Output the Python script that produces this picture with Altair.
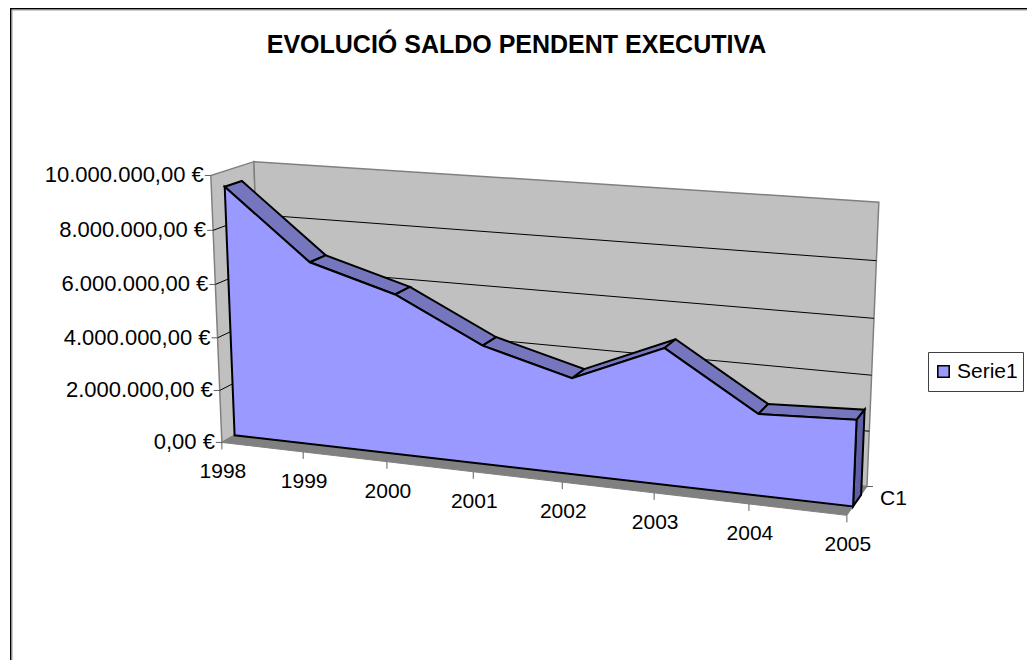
import altair as alt
import numpy as np
import pandas as pd

TITLE = "EVOLUCIÓ SALDO PENDENT EXECUTIVA"
SERIES = "Serie1"
DEPTH_LABEL = "C1"
years = ["1998", "1999", "2000", "2001", "2002", "2003", "2004", "2005"]
values = [9430000, 6880000, 5960000, 4380000, 3510000, 4900000, 2900000, 3040000]
y_ticks = [0, 2000000, 4000000, 6000000, 8000000, 10000000]
y_labels = ["0,00 €", "2.000.000,00 €", "4.000.000,00 €", "6.000.000,00 €", "8.000.000,00 €", "10.000.000,00 €"]

# 3D projection of the Excel-style chart box: (category, value, depth) -> picture plane
calib_src = [(0,0,0),(1,0,0),(0,1,0),(0,1,1),(1,1,1),(1,0,1),(0,0,1),(0,0,.3),(1,0,.3),
             (1,.8,1),(1,.6,1),(1,.4,1),(1,.2,1),(0,.8,0),(0,.6,0),(0,.4,0),(0,.2,0)]
calib_dst = [(223,443),(847,517),(211,176),(254,161),(879,203),(867,487),(263,421),(235,435),(853,506),
             (877,261),(874,318),(871,374),(869,430),(213,231),(215,285),(217,337),(219,388)]
A, b = [], []
for (u, v, d), (px, py) in zip(calib_src, calib_dst):
    A.append([u, v, d, 1, 0, 0, 0, 0, -u*px, -v*px, -d*px]); b.append(px)
    A.append([0, 0, 0, 0, u, v, d, 1, -u*py, -v*py, -d*py]); b.append(py)
h = np.linalg.lstsq(np.array(A, float), np.array(b, float), rcond=None)[0]

def proj(u, v, d):
    w = h[8]*u + h[9]*v + h[10]*d + 1
    return (h[0]*u + h[1]*v + h[2]*d + h[3]) / w, (h[4]*u + h[5]*v + h[6]*d + h[7]) / w

N = len(years) - 1
MAXV = float(y_ticks[-1])
DF, DB = 0.3, 0.7
U = [i / N for i in range(len(years))]
V = [x / MAXV for x in values]

def poly_df(polys):
    rows = []
    for pid, pts in enumerate(polys):
        for i, p in enumerate(pts):
            x, y = proj(*p)
            rows.append({"poly": pid, "i": i, "x": x, "y": y, "series": SERIES})
    return pd.DataFrame(rows)

W, H = 1019, 652
X = alt.X("x:Q", axis=None, scale=alt.Scale(domain=[8, 8 + W], nice=False, zero=False))
Y = alt.Y("y:Q", axis=None, scale=alt.Scale(domain=[8 + H, 8], nice=False, zero=False))

def polygons(polys, fill, stroke, sw):
    return alt.Chart(poly_df(polys)).mark_line(
        interpolate="linear-closed", fill=fill, stroke=stroke, strokeWidth=sw, strokeJoin="miter", clip=False
    ).encode(x=X, y=Y, detail="poly:N", order="i:Q")

left_wall = polygons([[(0,0,0),(0,1,0),(0,1,1),(0,0,1)]], "#C0C0C0", "#808080", 1.5)
back_wall = polygons([[(0,0,1),(0,1,1),(1,1,1),(1,0,1)]], "#C0C0C0", "#808080", 1.5)
floor = polygons([[(0,0,0),(1,0,0),(1,0,1),(0,0,1)]], "#808080", "#808080", 1)

grid = []
for k, t in enumerate(y_ticks[1:-1]):
    v = t / MAXV
    for j, p in enumerate([(0,v,0),(0,v,1),(1,v,1)]):
        x, y = proj(*p)
        grid.append({"k": k, "j": j, "x": x, "y": y})
gridlines = alt.Chart(pd.DataFrame(grid)).mark_line(color="#000000", strokeWidth=1).encode(
    x=X, y=Y, detail="k:N", order="j:Q")

top_faces = polygons([[(U[i],V[i],DF),(U[i+1],V[i+1],DF),(U[i+1],V[i+1],DB),(U[i],V[i],DB)] for i in range(N)],
                     "#7676BF", "#000000", 2)
end_face = polygons([[(1,V[-1],DF),(1,V[-1],DB),(1,0,DB),(1,0,DF)]], "#5F5FA8", "#000000", 2)

front_pts = [(0,0,DF)] + [(U[i],V[i],DF) for i in range(N+1)] + [(1,0,DF)]
front = alt.Chart(poly_df([front_pts])).mark_line(
    interpolate="linear-closed", stroke="#000000", strokeWidth=2, strokeJoin="miter"
).encode(
    x=X, y=Y, detail="poly:N", order="i:Q",
    fill=alt.Fill("series:N", scale=alt.Scale(domain=[SERIES], range=["#9999FF"]), legend=alt.Legend(
        title=None, orient="none", legendX=920, legendY=344, padding=5, clipHeight=29,
        strokeColor="#404040", fillColor="#FFFFFF",
        symbolType="square", symbolSize=130, symbolStrokeColor="#000000", symbolStrokeWidth=1.6,
        symbolFillColor="#9999FF",
        labelFont="Liberation Sans", labelFontSize=21, labelColor="#000000", labelOffset=3)),
)

# Axis ticks
ticks = []
for t in y_ticks:
    x, y = proj(0, t / MAXV, 0)
    ticks.append({"x": x - 6, "x2": x, "y": y, "y2": y})
for u in U:
    x, y = proj(u, 0, 0)
    ticks.append({"x": x, "x2": x, "y": y, "y2": y + 7})
x, y = proj(1, 0, 1)
ticks.append({"x": x, "x2": x + 6, "y": y, "y2": y})
tick_layer = alt.Chart(pd.DataFrame(ticks)).mark_rule(color="#606060", strokeWidth=1).encode(
    x=X, y=Y, x2="x2:Q", y2="y2:Q")

def labels(rows, align, dx=0, dy=0, size=21):
    return alt.Chart(pd.DataFrame(rows)).mark_text(
        font="Liberation Sans", fontSize=size, color="#000000", align=align, baseline="middle", dx=dx, dy=dy
    ).encode(x=X, y=Y, text="t:N")

y_text = labels([dict(zip("xy", proj(0, t / MAXV, 0))) | {"t": s} for t, s in zip(y_ticks, y_labels)], "right", dx=-7, size=22)
x_text = labels([dict(zip("xy", proj(u, 0, 0))) | {"t": s} for u, s in zip(U, years)], "center", dx=1, dy=30)
c_text = labels([dict(zip("xy", proj(1, 0, 1))) | {"t": DEPTH_LABEL}], "left", dx=13, dy=12)

# Chart frame (open at the window edges, like the reference crop)
frame_base = alt.Chart(pd.DataFrame({"a": [0]}))
frame = [
    frame_base.mark_rule(color="#000000", strokeWidth=1.5).encode(x=alt.value(2.75), y=alt.value(0), y2=alt.value(H)),
    frame_base.mark_rule(color="#000000", strokeWidth=1.5).encode(x=alt.value(2), x2=alt.value(W), y=alt.value(0.75)),
    frame_base.mark_rule(color="#999999", strokeWidth=1).encode(x=alt.value(4), y=alt.value(2), y2=alt.value(H)),
    frame_base.mark_rule(color="#999999", strokeWidth=1).encode(x=alt.value(4), x2=alt.value(W), y=alt.value(2)),
]

chart = alt.layer(
    *frame, left_wall, back_wall, floor, gridlines, tick_layer, top_faces, end_face, front,
    y_text, x_text, c_text,
).properties(
    width=W, height=H, padding=0,
    autosize=alt.AutoSizeParams(type="none"),
    title=alt.TitleParams(TITLE, anchor="middle", font="Liberation Sans", fontSize=25, fontWeight="bold",
                          color="#000000", baseline="middle", offset=0, dy=63, dx=-1),
).configure_view(stroke=None)

chart.save("out.html", embed_options={"renderer": "svg", "actions": False})
